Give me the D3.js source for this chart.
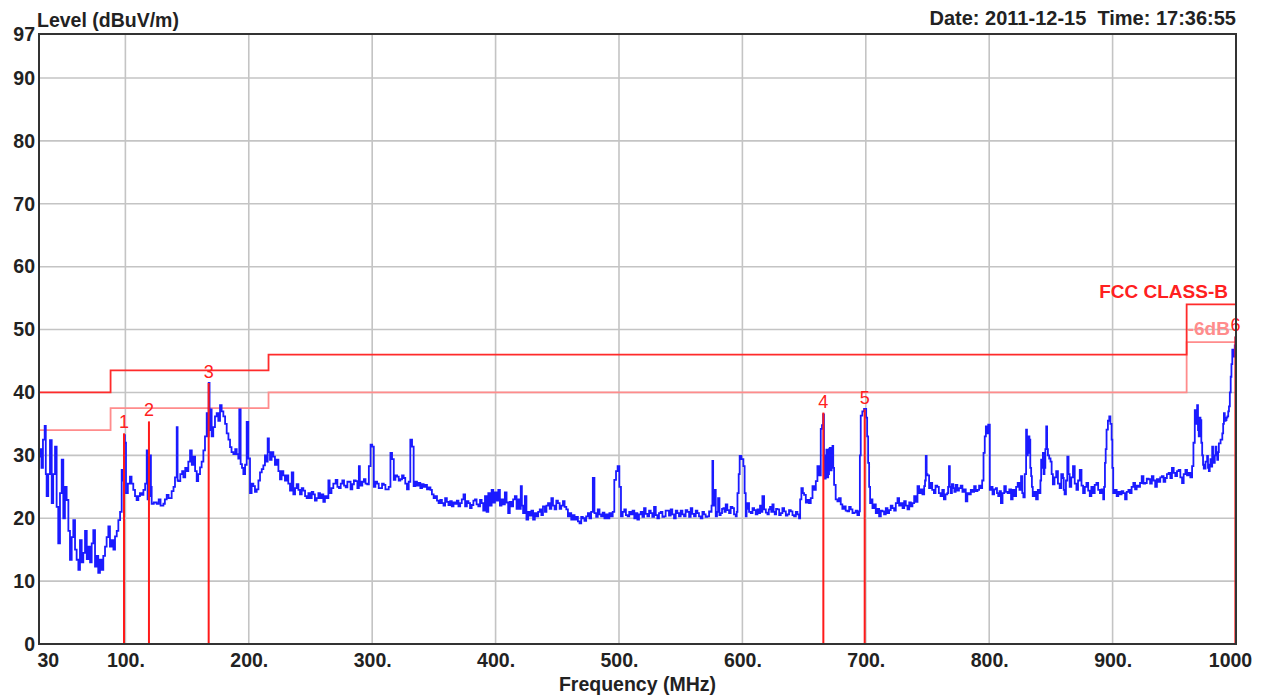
<!DOCTYPE html>
<html>
<head>
<meta charset="utf-8">
<script src="https://cdn.jsdelivr.net/npm/d3@7"></script>
<style>
  html, body { margin: 0; padding: 0; background: #fff; }
  svg { display: block; font-family: "Liberation Sans", Arial, sans-serif; }
</style>
</head>
<body>
<svg id="chart" width="1269" height="698"></svg>
<script>
// ---------- data ----------
const xTickValues = [30, 100, 200, 300, 400, 500, 600, 700, 800, 900, 1000];
const xTickLabels = ["30", "100.", "200.", "300.", "400.", "500.", "600.", "700.", "800.", "900.", "1000"];
const yTickValues = [0, 10, 20, 30, 40, 50, 60, 70, 80, 90, 97];
const xGridValues = [100, 200, 300, 400, 500, 600, 700, 800, 900];
const yGridValues = [10, 20, 30, 40, 50, 60, 70, 80, 90];

// FCC Class-B limit (step) and limit - 6 dB
const limitMHz = [30, 88, 216, 960, 1000];
const limitDb = [40, 43.5, 46, 54, 54];
const marginDb = [34, 37.5, 40, 48, 48];

// Markers
const markerNo = ["1", "2", "3", "4", "5", "6"];
const markerMHz = [98.9, 119.1, 167.5, 665.6, 699.1, 999.5];
const markerDb = [33.5, 35.4, 41.5, 36.8, 37.3, 48.9];

// Measured trace [MHz, dBuV/m]
const trace = [
[29.5,29.8],[30.8,31.0],[32,28],[33.2,32.5],[34.6,34.7],[35.5,27],[36.2,23.5],[37.5,27],[38.9,32.4],[40.3,22.4],[41.5,27],[43,31.4],[44.3,21.8],[45.6,16],[47,24],[48.4,29.3],[49.7,20],[51,25],[52.4,22.9],[53.8,18],[55.1,13.4],[56.5,17],[57.8,19.7],[59.2,15],[60.5,13.4],[61.9,11.8],[63.2,16.5],[64.6,13],[65.9,14.5],[67.3,18],[68.7,13.5],[70,15.5],[71.4,13],[72.7,16],[74,18.1],[75.4,12.3],[76.7,14],[78,11.3],[79.4,13.4],[80.7,11.8],[82.1,14],[83.5,15.5],[84.8,17],[86.2,18.7],[87.5,15.5],[88.9,16.5],[90.3,15],[91.6,17.1],[93,18],[94.3,19.7],[95.7,21],[97,27.7],[98,26],[98.9,33.2],[99.6,32],[100.5,24],[102,25.5],[103.7,26.6],[105,25.5],[106.4,24.5],[107.8,23.5],[109.1,22.9],[110.5,23.5],[111.8,24],[113.2,23.7],[114.6,24.5],[116,25.5],[117.3,30.8],[118,23],[119,23.5],[120,30],[120.7,25],[121.3,22.3],[123,22.5],[125.4,22.3],[127,23],[128.5,22],[130.8,22.3],[132,23],[133.5,23.7],[135,23.2],[137.5,24.3],[139,25],[140.2,26.5],[141.6,34.5],[142.3,26],[142.9,25.9],[144.5,27],[146,27.5],[147,26.5],[148.5,28],[149.7,27.5],[151,29],[152.4,30.8],[153.8,28.5],[155.1,29.8],[156.5,27.5],[157.8,25.9],[159,27],[160.5,28.1],[161.8,29],[163.2,30.8],[164.5,33],[165.9,36.7],[166.8,33],[167.5,41.5],[168.2,34],[168.9,37.3],[169.9,33],[171.2,34.5],[172.6,36.2],[174,36.7],[175.3,35.5],[176.7,38],[178,37],[179.4,36.2],[180.8,35],[182.1,33.5],[183.5,32.5],[184.8,31.3],[186,30.5],[187.5,30.2],[189,31],[190.2,30.2],[191.5,29.5],[192.3,37.3],[193.4,28.6],[194.5,28],[195.6,27],[197,28.5],[198.3,35.3],[199.6,29.5],[201,24],[202.3,25.5],[203.7,25.1],[205,24.2],[206.4,24.6],[207.8,26],[209.1,27.3],[210.5,27.8],[211.8,28.4],[213.1,30],[214.2,29],[215.3,32.7],[216.3,30.5],[217.2,29.3],[218.5,30.5],[219.9,29.8],[221.2,28.5],[222.6,29.3],[224,27.5],[225.3,26.2],[226.6,27.5],[228,26.8],[229.3,26],[230.7,26.8],[232,25.5],[233.4,24.4],[234.8,27.3],[236.1,23.8],[237.5,24.8],[238.8,25.4],[240.2,24.5],[241.5,23.8],[242.9,24.8],[244.2,24.4],[245.6,23.5],[246.9,23.2],[248.3,24],[249.6,23.2],[251,24.2],[252.3,23.8],[253.6,22.8],[255,23.2],[256.4,24],[257.7,23.2],[259,23.8],[260.4,22.6],[261.7,23.5],[263.1,23.2],[264.5,26],[265.5,24],[267,24.8],[268.5,25.5],
[270.4,26.1],[271.8,25],[273.1,24.8],[274.5,25.5],[275.8,26.0],[277.2,25.2],[278.5,24.9],[279.9,25.8],[281.2,25.8],[282.5,24.6],[283.9,25.4],[285.2,26],[286.6,25.9],[288,24.8],[289.2,28.3],[290,25.8],[290.6,25.2],[292,25.8],[293.3,26.2],[294.6,25.5],[296,25.4],[297.3,28.3],[298.7,31.7],[300,31.4],[301.3,25.0],[302.6,25.8],[304,25.5],[305.3,24.8],[306.7,24.8],[308,25.5],[309.4,25.3],[310.7,24.6],[312.1,24.6],[313.4,25],[314.8,30.4],[316.1,29.4],[317.5,26.1],[318.8,26.8],[320.2,26.6],[321.5,26],[322.8,26.2],[324.2,26.8],[325.5,26.4],[326.8,25.5],[328.2,24.6],[329.6,25.8],[330.9,32.5],[332.3,31.4],[333.6,25.1],[335,25.8],[336.3,25.2],[337.7,25.6],[339,24.8],[340.4,25.4],[341.7,25.0],[343,25.3],[344.4,24.6],[345.8,24.9],[347.2,24.5],[348.4,23.8],[349.8,23.2],[351.1,23.5],[352.5,22.8],[353.8,22.4],[355.2,22.9],[356.5,22.4],[357.8,22],[359.1,23.2],[360.5,22.6],[361.8,22.1],[363.2,22.7],[364.5,21.9],[365.9,22.5],[367.2,22.3],[368.6,22.8],[369.9,21.9],[371.3,22.4],[372.6,23.0],[374,23.8],[375.3,21.9],[376.7,22.7],[378,22.4],[379.3,21.6],[380.6,22.1],[382,22.8],[383.3,23.0],[384.6,22.2],[386,21.9],[387.4,22.9],[388.7,22.4],[390,21.2],[391.4,23.5],[392.7,21.0],[394.1,24.0],[395.4,22.0],[396.8,24.5],[398.1,22.5],[399.5,24.1],[400.8,22.8],[402.2,24.5],[403.5,22.0],[404.8,23.0],[406.2,22.2],[407.5,24.1],[408.9,22.5],[410.2,20.8],[411.5,22.6],[412.9,21.9],[414.2,23],[415.6,23.5],[417,21.5],[418.3,23.0],[419.5,21.5],[420.4,25.1],[421.3,22],[422.3,20.8],[423.7,23.5],[425,19.8],[426.4,21],[427.7,20.4],[429,21.2],[430.4,19.8],[431.8,20.8],[433.1,20.3],[434.5,21],[435.8,21.4],[437.1,20.5],[438.4,21.9],[440,21],[441.2,22],[442.5,22.4],[443.9,21.5],[445.2,23.2],[446.5,22],[447.8,21.4],[449.2,22.8],[450.5,22.4],[451.9,21.5],[453.2,22],[454.6,22.7],[455.9,21.8],[457.3,21.4],[458.6,20.3],[460,20.8],[461.3,19.8],[462.6,20.5],[464,19.8],[465.3,20.2],[466.7,19.5],[468,19.2],[469.4,20.2],[470.7,20.0],[472,19.6],[473.4,20.3],[474.8,20.8],[476.1,20.0],[477.4,21.0],[478.8,26.4],[480.1,20.8],[481.5,20.2],[482.8,21.4],[484.2,20.6],[485.5,20.3],[486.8,20.9],[488.2,20.0],[489.5,20.6],[490.9,20.0],[492.2,20.8],[493.5,20.3],[494.9,21],[496.2,26.1],[497.6,27.5],[498.9,28.3],[500.3,25.0],[501.6,20.3],[503,21],[504.3,21.4],[505.6,20.5],[507,20.3],[508.3,21],[509.7,20.6],[511,21.2],[512.4,20.0],
[513.6,20.8],[514.9,19.8],[516.2,20.6],[517.6,21.0],[519,20.2],[520.3,21.6],[521.6,20.7],[523,20.3],[524.4,21.2],[525.7,20.8],[527,20.2],[528.4,21.8],[529.8,20.5],[531.1,20.0],[532.4,20.8],[533.8,21.0],[535.2,20.2],[536.5,20.3],[537.8,21.2],[539.2,21.2],[540.5,20.4],[541.9,21.4],[543.2,20.6],[544.6,20.0],[546,21.2],[547.3,20.8],[548.6,20.3],[550,21.2],[551.4,20.6],[552.7,20.3],[554,21.3],[555.4,21.0],[556.8,20.2],[558.1,21.6],[559.4,20.7],[560.8,20.3],[562.2,21.2],[563.5,20.8],[564.8,20.3],[566.2,20.0],[567.6,21],[568.9,20.6],[570.2,20.2],[571.6,20.3],[573,21.1],[573.8,21.0],[575,22],[575.7,29.1],[576.3,22],[577,24.5],[578.4,20.3],[579.4,21],[580.3,23.2],[581.4,20.5],[582.4,20.8],[583.5,21.5],[584.6,21.6],[585.5,21],[586.5,22.2],[587.8,21.3],[589.2,20.8],[590.5,21.8],[591.9,21.6],[593.2,20.6],[594.6,20.3],[595.4,21],[596,24.0],[597,27],[597.8,29.9],[599.2,29.4],[600.8,28.3],[601.8,24],[602.7,20.3],[603.4,21.5],[604.1,22.4],[605.4,21],[606.8,20.8],[608.2,21.6],[609.5,21.3],[610.8,20.6],[612.2,21.4],[613.2,20.8],[614.3,22.0],[615.3,21],[616.2,23.5],[617.6,21.4],[619,20.9],[620.3,20.6],[621.4,21.4],[622.4,21.8],[623.4,21],[624.3,22.2],[625.3,21],[626.2,20.6],[627.3,21.5],[628.4,21.4],[629.8,20.5],[631.1,20.8],[632.4,21.6],[633.8,21.1],[635.2,20.4],[636.5,20.6],[637.8,21.3],[639.2,21.1],[640.6,20.5],[641.9,20.3],[643.3,21],[644.6,20.6],[645.9,20.0],[646.8,23],[647.8,24.8],[649,24],[650,23.7],[651.4,22.5],[652.7,22.9],[654,22.4],[655.4,23.2],[656.8,25.1],[658.2,24.5],[659.5,25.9],[660.8,28.3],[662.2,26.8],[663.5,34.2],[664.5,34.8],[665.4,36.5],[666.1,30],[666.8,26.3],[667.5,28],[668.1,30.9],[668.8,26.5],[669.5,27.0],[670.2,31],[670.8,31.2],[671.6,27.6],[672.3,29],[673,31.5],[673.6,28],[674.3,25.3],[675.6,23],[677,22.7],[678.3,23.2],[679.7,22.2],[681,21.5],[682.4,21.9],[683.7,21.2],[685.1,21.1],[686.5,21.8],[687.8,21.4],[689.2,20.8],[690.5,20.9],[691.8,21.2],[693.2,20.5],[694.6,21.1],[695.2,30],[695.9,36.3],[697.2,37],[698.6,37.4],[700.3,36.0],[701.1,33],[701.9,28.8],[702.7,25],[703.5,22.4],[704.4,23],[705.4,21.6],[706.8,22.2],[708.1,20.8],[709.4,21.5],[710.8,20.3],[712.2,21.2],[713.5,21.1],[714.8,20.6],[716.2,21.6],[717.6,20.8],[718.9,21.3],[720.2,22],[721.6,21.6],[723,21.2],[724.3,22.4],[725.7,23.2],[727,22],[728.4,22.4],[729.8,21.6],[731.1,22.7],[732.4,22],[733.8,21.4],[735.2,22.5],[736.5,21.9],[737.8,22.4],[739.2,23.5],[740.6,22.6],[741.9,25.1],[743.2,24],[744.6,24.6],[745.9,23.8],[747.3,25.1],[748,26],[748.6,29.9],[749.3,27],[750,26.8],[751.3,24.8],
[752.4,25.6],[753.8,24.5],[755.2,24.0],[756.5,25.2],[757.9,25.0],[759.2,24],[760.6,23.5],[762,24.5],[763.3,23.0],[764.6,23.8],[766,24.0],[766.7,25],[767.4,28.3],[768.1,25],[768.8,24.0],[769.8,25.4],[770.9,24.8],[771.8,24.2],[772.8,25.3],[774.2,24.4],[775.5,24.8],[776.9,25.2],[778.3,24.2],[779.6,24.6],[781,22.7],[782.3,24.0],[783.7,23.8],[785.1,24.5],[786.4,24.2],[787.8,25.1],[789.1,24.3],[790.5,24.5],[791.8,25.2],[793.2,24.8],[794.3,26],[795.4,30.4],[796.4,33],[797.3,34.6],[798.2,33.5],[799.2,34.9],[800.5,24.5],[801.6,25],[802.7,23.8],[804,24.6],[805.4,24.8],[806.3,24],[807.3,23.5],[808.4,24.3],[809.5,22.4],[810.8,24],[812.2,25.1],[813.5,24.2],[814.9,24.0],[816.3,24.6],[817.7,23.0],[819,24.5],[820.4,23.5],[821.8,25],[823.1,25.6],[824.5,24.5],[825.8,26.7],[826.8,24],[827.7,23.3],[828.8,27],[829.9,34.1],[830.6,30],[831.3,30.4],[832,33],[832.6,32.5],[833.3,28],[834,26.7],[834.6,25],[835.3,23.5],[836.7,24.2],[838,23.0],[839.4,24.5],[840.8,24.0],[841.5,26],[842.1,29.3],[842.8,28],[843.5,30.4],[844.1,27],[844.8,28.0],[845.5,31],[846.2,34.6],[846.9,31],[847.6,30.0],[848.6,29.5],[849.7,29.0],[850.6,27],[851.6,25.4],[852.9,26.5],[854.3,27.5],[855.7,25.5],[857.1,24.8],[858.4,27],[859.8,26.4],[860.4,24.5],[861.1,23.8],[862.2,26],[863.3,29.8],[864.3,27],[865.2,25.0],[866.5,26.5],[867.9,28.3],[869.3,25.5],[870.7,24.5],[872,26],[873.4,27.7],[874.8,25.2],[876.1,24.0],[877.5,25],[878.8,25.6],[880.2,24.4],[881.5,23.5],[882.8,25],[884.2,24.0],[885.5,25.3],[886.9,25.6],[888.3,24.5],[889.7,24.0],[891,24.6],[892.4,23.0],[893.1,25],[893.8,28.8],[894.4,31],[895.1,34.1],[896.2,35.5],[897.3,36.2],[898.2,35],[899.2,32.5],[899.8,28],[900.5,24.0],[901.9,24.5],[903.3,23.5],[904.6,24.2],[906,23.8],[907.3,24.3],[908.7,24],[910.1,23.0],[911.4,24.2],[912.8,24.5],[914.1,24.0],[915.4,25],[916.8,25.6],[918.2,24.6],[919.5,25.2],[920.9,25.0],[922.2,25.6],[923.6,26.7],[925,25.5],[926.4,25.6],[927.7,26.3],[929.1,26.2],[930.4,25.5],[931.8,26.7],[933.1,26],[934.5,25.0],[935.9,26.2],[937.2,25.8],[938.6,26.5],[939.9,26.7],[941.3,25.8],[942.7,26.4],[944,27],[945.4,27.2],[946.8,26.4],[948.1,28.0],[949.5,27.2],[950.8,26.7],[952.2,27.5],[953.5,27.7],[954.9,26.5],[956.3,25.6],[957.6,27],[959,27.7],[960.3,26.8],[961.7,27.2],[963,26.5],[964.4,28.3],[965.5,32],[966.6,37.2],[967.5,35],[968.5,38.0],[969.2,34],[969.8,33.0],[970.5,36],[971.2,35.6],[971.9,32],[972.6,30.0],[973.3,28.5],[973.9,27.9],[975.3,29],[976.6,29.9],[977.3,28],[978,27.5],[978.7,28.5],[979.3,29.4],[980,28.2],[980.7,31.4],[981.4,29.5],[982.1,28.8],[982.8,30],[983.4,31.4],[984.1,30],[984.8,29.3],[985.5,30.5],[986.1,31.9],[987.5,32.5],[988.9,33.5],[989.6,35],[990.2,36.7],[990.9,35.5],[991.6,35.6],[992.3,36],[993,36.2],[993.7,37],[994.3,37.8],[995,40],[995.7,42.5],[996.3,44.5],[997,46.8],[997.7,46],[998.4,45.7],[999,47.5],[999.7,48.9]
];

// ---------- layout ----------
const svg = d3.select("#chart");
const plotL = 39, plotR = 1236, plotT = 34, plotB = 644;
const x = d3.scaleLinear().domain([30, 1000]).range([plotL, plotR]);
const y = d3.scaleLinear().domain([0, 97]).range([plotB, plotT]);
const fontStack = '"Liberation Sans", Arial, sans-serif';
const textCol = "#222";
const fs = 19.5;

// grid
svg.append("g").selectAll("line").data(xGridValues).join("line")
  .attr("x1", d => x(d)).attr("x2", d => x(d)).attr("y1", plotT).attr("y2", plotB)
  .attr("stroke", "#c4c4c4").attr("stroke-width", 1.6);
svg.append("g").selectAll("line").data(yGridValues).join("line")
  .attr("x1", plotL).attr("x2", plotR).attr("y1", d => y(d)).attr("y2", d => y(d))
  .attr("stroke", "#c4c4c4").attr("stroke-width", 1.6);

// limit lines
const stepLine = d3.line().x(d => x(d[0])).y(d => y(d[1])).curve(d3.curveStepAfter);
svg.append("path").datum(limitMHz.map((f, i) => [f, marginDb[i]]))
  .attr("d", stepLine).attr("fill", "none").attr("stroke", "#ff8c8c").attr("stroke-width", 1.8);
svg.append("path").datum(limitMHz.map((f, i) => [f, limitDb[i]]))
  .attr("d", stepLine).attr("fill", "none").attr("stroke", "#ff2b2b").attr("stroke-width", 1.8);

// trace
const traceLine = d3.line().x(d => x(d[0])).y(d => y(d[1])).curve(d3.curveStepAfter);
svg.append("path").datum(trace)
  .attr("d", traceLine).attr("fill", "none").attr("stroke", "#1a1aff").attr("stroke-width", 1.8)
  .attr("stroke-linejoin", "miter");

// markers
const markers = markerNo.map((n, i) => ({ n, f: markerMHz[i], v: markerDb[i] }));
svg.append("g").selectAll("line").data(markers).join("line")
  .attr("x1", d => x(d.f)).attr("x2", d => x(d.f)).attr("y1", d => y(d.v)).attr("y2", plotB)
  .attr("stroke", "#ff1a1a").attr("stroke-width", 2);
svg.append("g").selectAll("text").data(markers).join("text")
  .attr("x", d => x(d.f)).attr("y", d => y(d.v) - 5)
  .attr("text-anchor", "middle").attr("font-family", fontStack).attr("font-size", 18)
  .attr("fill", "#ff2020").text(d => d.n);

// frame
svg.append("rect").attr("x", plotL).attr("y", plotT).attr("width", plotR - plotL).attr("height", plotB - plotT)
  .attr("fill", "none").attr("stroke", "#333").attr("stroke-width", 2);

// axes
const yAxis = d3.axisLeft(y).tickValues(yTickValues).tickSize(0).tickPadding(4).tickFormat(d3.format("d"));
const gy = svg.append("g").attr("transform", `translate(${plotL},0)`).call(yAxis);
gy.select(".domain").remove();
gy.selectAll("text").attr("font-family", fontStack).attr("font-size", fs).attr("font-weight", "bold").attr("fill", textCol);

const xAxis = d3.axisBottom(x).tickValues(xTickValues).tickSize(0).tickPadding(9.5)
  .tickFormat((d, i) => xTickLabels[i]);
const gx = svg.append("g").attr("transform", `translate(0,${plotB})`).call(xAxis);
gx.select(".domain").remove();
gx.selectAll("text").attr("font-family", fontStack).attr("font-size", fs).attr("font-weight", "bold").attr("fill", textCol);
gx.selectAll(".tick").filter(d => d === 30).select("text").attr("text-anchor", "start").attr("x", -2);
gx.selectAll(".tick").filter(d => d === 1000).select("text").attr("x", -6);

// titles
svg.append("text").attr("x", 37).attr("y", 27)
  .attr("font-family", fontStack).attr("font-size", fs).attr("font-weight", "bold").attr("fill", textCol)
  .text("Level (dBuV/m)");
svg.append("text").attr("x", plotR).attr("y", 25).attr("text-anchor", "end")
  .attr("font-family", fontStack).attr("font-size", 20).attr("font-weight", "bold").attr("fill", textCol)
  .style("white-space", "pre")
  .text("Date: 2011-12-15  Time: 17:36:55");
svg.append("text").attr("x", (plotL + plotR) / 2).attr("y", 691).attr("text-anchor", "middle")
  .attr("font-family", fontStack).attr("font-size", fs).attr("font-weight", "bold").attr("fill", textCol)
  .text("Frequency (MHz)");

// legend labels
svg.append("text").attr("x", 1228).attr("y", 298).attr("text-anchor", "end")
  .attr("font-family", fontStack).attr("font-size", 19).attr("font-weight", "bold").attr("fill", "#ff2020")
  .text("FCC CLASS-B");
svg.append("text").attr("x", x(960) + 1).attr("y", 335)
  .attr("font-family", fontStack).attr("font-size", 19).attr("font-weight", "bold").attr("fill", "#ff8c8c")
  .text("-6dB");
</script>
</body>
</html>
